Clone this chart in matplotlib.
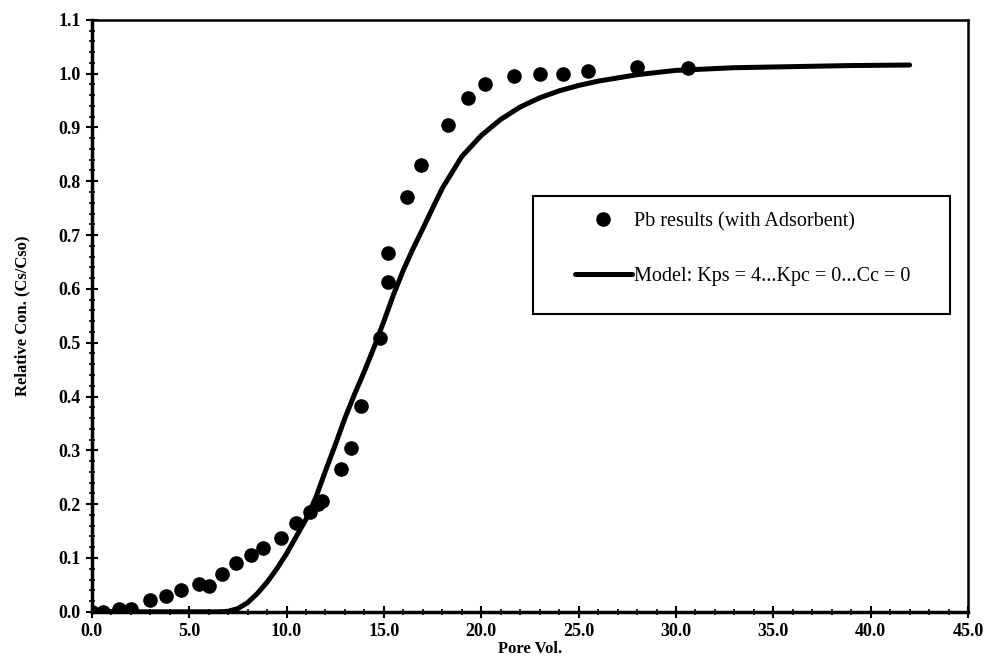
import matplotlib
matplotlib.use("Agg")
import matplotlib.pyplot as plt
from matplotlib.patches import Rectangle
from matplotlib.ticker import MultipleLocator, FormatStrFormatter

# measured points (Pb results with adsorbent)
pv_obs = [0.0, 0.6, 1.4, 2.0, 3.0, 3.8, 4.6, 5.5, 6.0, 6.7, 7.4, 8.2, 8.8, 9.7,
          10.5, 11.2, 11.6, 11.8, 12.8, 13.3, 13.8, 14.8, 15.2, 15.2, 16.2, 16.9,
          18.3, 19.3, 20.2, 21.7, 23.0, 24.2, 25.5, 28.0, 30.6]
c_obs = [0.0, 0.0, 0.006, 0.006, 0.022, 0.029, 0.04, 0.052, 0.048, 0.071, 0.091,
         0.105, 0.118, 0.138, 0.165, 0.185, 0.20, 0.205, 0.265, 0.305, 0.383, 0.508,
         0.612, 0.666, 0.77, 0.83, 0.905, 0.955, 0.98, 0.995, 1.0, 1.0, 1.004, 1.012,
         1.01]

# model curve
pv_mod = [0.0, 6.5, 7.0, 7.5, 8.0, 8.5, 9.0, 9.5, 10.0, 10.5, 11.0, 11.5, 12.0,
          12.5, 13.0, 13.5, 14.0, 14.5, 15.0, 15.5, 16.0, 16.5, 17.0, 17.5, 18.0,
          19.0, 20.0, 21.0, 22.0, 23.0, 24.0, 25.0, 26.0, 28.0, 30.0, 33.0, 36.0,
          39.0, 42.0]
c_mod = [0.0, 0.0, 0.001, 0.006, 0.017, 0.034, 0.055, 0.08, 0.108, 0.14, 0.172,
         0.212, 0.262, 0.31, 0.36, 0.405, 0.447, 0.492, 0.54, 0.59, 0.635, 0.675,
         0.712, 0.75, 0.787, 0.846, 0.885, 0.915, 0.938, 0.955, 0.968, 0.978,
         0.986, 0.998, 1.006, 1.011, 1.013, 1.015, 1.016]

plt.rcParams['font.family'] = ['Liberation Serif', 'DejaVu Serif']

fig = plt.figure(figsize=(9.98, 6.6), dpi=100)
ax = fig.add_axes([0.092, 0.073, 0.878, 0.897])

ax.plot(pv_mod, c_mod, color='black', lw=3.6, solid_capstyle='round',
        label='Model: Kps = 4...Kpc = 0...Cc = 0', zorder=2)
ax.plot(pv_obs, c_obs, 'o', color='black', ms=9.5, ls='none',
        label='Pb results (with Adsorbent)', zorder=3)

ax.set_xlim(0, 45)
ax.set_ylim(0, 1.1)
ax.xaxis.set_major_locator(MultipleLocator(5))
ax.xaxis.set_minor_locator(MultipleLocator(1))
ax.yaxis.set_major_locator(MultipleLocator(0.1))
ax.yaxis.set_minor_locator(MultipleLocator(0.02))
ax.xaxis.set_major_formatter(FormatStrFormatter('%.1f'))
ax.yaxis.set_major_formatter(FormatStrFormatter('%.1f'))
ax.tick_params(which='major', direction='inout', length=8, width=1.5,
               labelsize=13, pad=4)
ax.tick_params(which='minor', direction='inout', length=4, width=1.2)
ax.tick_params(top=False, right=False, which='both')
for lbl in ax.get_xticklabels() + ax.get_yticklabels():
    lbl.set_fontweight('bold')
for side in ['left', 'bottom']:
    ax.spines[side].set_linewidth(2.5)
for side in ['top', 'right']:
    ax.spines[side].set_linewidth(1.8)

ax.set_xlabel('Pore Vol.', fontsize=12, fontweight='bold', labelpad=1)
ax.set_ylabel('Relative Con. (Cs/Cso)', fontsize=12, fontweight='bold', labelpad=20)

# legend box drawn separately so the padding matches the original
ax.add_patch(Rectangle((0.503, 0.503), 0.476, 0.199, transform=ax.transAxes,
                       fill=False, edgecolor='black', lw=1.5, zorder=4))
handles, labels = ax.get_legend_handles_labels()
leg = ax.legend(handles[::-1], labels[::-1], loc='upper left',
                bbox_to_anchor=(0.551, 0.675), fontsize=14.5, frameon=False,
                borderpad=0, borderaxespad=0, labelspacing=1.75,
                handlelength=2.85, handletextpad=0.1)

fig.savefig('out.png', dpi=100)
